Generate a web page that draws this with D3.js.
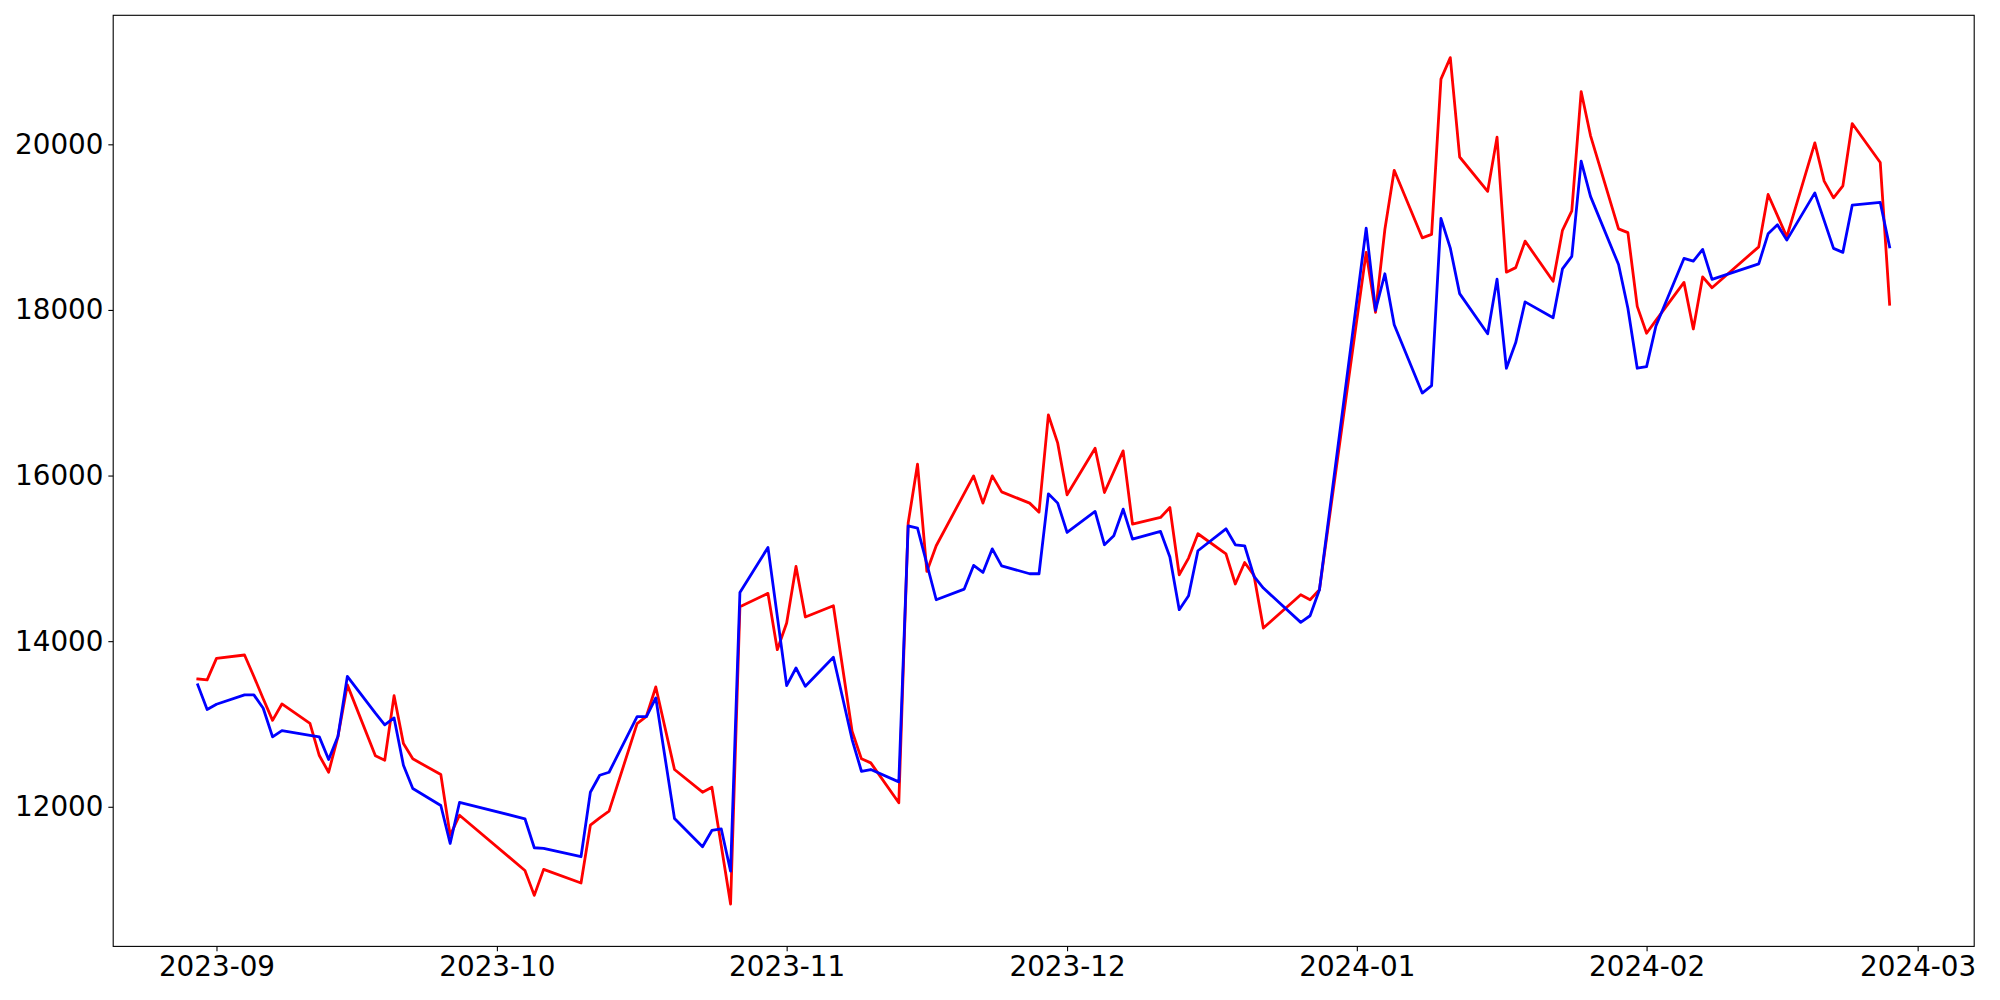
<!DOCTYPE html>
<html>
<head>
<meta charset="utf-8">
<script src="https://cdn.jsdelivr.net/npm/d3@7"></script>
<style>
   html, body { margin: 0; padding: 0; background: #fff; }
   svg { display: block; }
   .tick text { font-family: "DejaVu Sans", sans-serif; font-size: 27.8px; fill: #000; }
   .tick line { stroke: #000; stroke-width: 1.1px; }
</style>
</head>
<body>
<svg id="chart" width="2000" height="1000"></svg>
<script>
// trading days (KRX calendar)
var dates = [
   '2023-08-30','2023-08-31','2023-09-01','2023-09-04','2023-09-05','2023-09-06','2023-09-07','2023-09-08',
   '2023-09-11','2023-09-12','2023-09-13','2023-09-14','2023-09-15','2023-09-18','2023-09-19','2023-09-20',
   '2023-09-21','2023-09-22','2023-09-25','2023-09-26','2023-09-27',
   '2023-10-04','2023-10-05','2023-10-06','2023-10-10','2023-10-11','2023-10-12','2023-10-13','2023-10-16',
   '2023-10-17','2023-10-18','2023-10-19','2023-10-20','2023-10-23','2023-10-24','2023-10-25','2023-10-26',
   '2023-10-27','2023-10-30','2023-10-31',
   '2023-11-01','2023-11-02','2023-11-03','2023-11-06','2023-11-07','2023-11-08','2023-11-09','2023-11-10',
   '2023-11-13','2023-11-14','2023-11-15','2023-11-16','2023-11-17','2023-11-20','2023-11-21','2023-11-22',
   '2023-11-23','2023-11-24','2023-11-27','2023-11-28','2023-11-29','2023-11-30',
   '2023-12-01','2023-12-04','2023-12-05','2023-12-06','2023-12-07','2023-12-08','2023-12-11','2023-12-12',
   '2023-12-13','2023-12-14','2023-12-15','2023-12-18','2023-12-19','2023-12-20','2023-12-21','2023-12-22',
   '2023-12-26','2023-12-27','2023-12-28',
   '2024-01-02','2024-01-03','2024-01-04','2024-01-05','2024-01-08','2024-01-09','2024-01-10','2024-01-11',
   '2024-01-12','2024-01-15','2024-01-16','2024-01-17','2024-01-18','2024-01-19','2024-01-22','2024-01-23',
   '2024-01-24','2024-01-25','2024-01-26','2024-01-29','2024-01-30','2024-01-31',
   '2024-02-01','2024-02-02','2024-02-05','2024-02-06','2024-02-07','2024-02-08','2024-02-13','2024-02-14',
   '2024-02-15','2024-02-16','2024-02-19','2024-02-20','2024-02-21','2024-02-22','2024-02-23','2024-02-26',
   '2024-02-27'
];

var redValues = [
   13544, 13532, 13792, 13833, 13574, 13304, 13044, 13242,
   13008, 12619, 12417, 12851, 13472, 12615, 12562, 13342,
   12763, 12579, 12389, 11654, 11898,
   11231, 10930, 11244, 11079, 11778, 11867, 11947, 13005,
   13093, 13447, 12948, 12450, 12176, 12236, 11533, 10825,
   14415, 14577, 13897,
   14219, 14902, 14292, 14428, 13670, 12912, 12579, 12530,
   12048, 15426, 16137, 14842, 15152, 15785, 15996, 15667,
   15996, 15803, 15667, 15558, 16732, 16391,
   15767, 16330, 15795, 16047, 16298, 15413, 15494, 15614,
   14802, 15003, 15297, 15055, 14690, 14950, 14794, 14159,
   14561, 14500, 14621,
   18696, 17971, 18971, 19686, 18871, 18912, 20787, 21047,
   19847, 19432, 20087, 18456, 18511, 18831, 18346, 18962,
   19197, 20637, 20106, 18979, 18934, 18043,
   17718, 17874, 18333, 17770, 18400, 18268, 18762, 19394,
   19139, 18883, 20017, 19555, 19353, 19498, 20251, 19780,
   18068
];

var blueValues = [
   13472, 13174, 13238, 13351, 13351, 13190, 12844, 12920,
   12863, 12844, 12570, 12852, 13575, 13130, 12989, 13073,
   12502, 12220, 12015, 11557, 12052,
   11855, 11505, 11497, 11397, 12176, 12381, 12417, 13089,
   13089, 13315, 12586, 11859, 11517, 11714, 11734, 11222,
   14589, 15132, 14300,
   13463, 13676, 13455, 13805, 13310, 12812, 12429, 12450,
   12301, 15393, 15365, 14932, 14500, 14629, 14915, 14830,
   15115, 14910, 14814, 14814, 15779, 15667,
   15313, 15566, 15164, 15273, 15594, 15232, 15325, 15016,
   14380, 14549, 15092, 15357, 15164, 15152, 14782, 14641,
   14227, 14307, 14621,
   18987, 17996, 18437, 17822, 16996, 17086, 19106, 18747,
   18197, 17712, 18372, 17296, 17606, 18097, 17906, 18496,
   18646, 19796, 19371, 18548, 18021, 17296,
   17315, 17806, 18622, 18590, 18731, 18369, 18557, 18919,
   19028, 18843, 19414, 19078, 18743, 18695, 19265, 19298,
   18762
];

var yTicks = [12000, 14000, 16000, 18000, 20000];
var seriesColors = ['red', 'blue'];

(function(){
   var svg = d3.select('#chart');
   var W = 2000, H = 1000;
   var margin = {left: 113.2, right: 25.8, top: 15.3, bottom: 53.6};
   var pw = W - margin.left - margin.right,
       ph = H - margin.top - margin.bottom;

   var parse = d3.timeParse('%Y-%m-%d');
   var xs = dates.map(parse);

   // matplotlib style 5% margins on both axes
   var xExt = d3.extent(xs);
   var xPad = (xExt[1] - xExt[0]) * 0.05;
   var x = d3.scaleTime()
      .domain([new Date(+xExt[0] - xPad), new Date(+xExt[1] + xPad)])
      .range([0, pw]);

   var all = redValues.concat(blueValues);
   var yExt = d3.extent(all);
   var yPad = (yExt[1] - yExt[0]) * 0.05;
   var y = d3.scaleLinear()
      .domain([yExt[0] - yPad, yExt[1] + yPad])
      .range([ph, 0]);

   var g = svg.append('g')
      .attr('transform', 'translate(' + margin.left + ',' + margin.top + ')');

   g.append('clipPath').attr('id', 'plot-clip')
      .append('rect').attr('width', pw).attr('height', ph);

   var line = d3.line()
      .x(function(d){ return x(d[0]); })
      .y(function(d){ return y(d[1]); });

   [redValues, blueValues].forEach(function(vals, i){
      var pts = xs.map(function(d, j){ return [d, vals[j]]; });
      g.append('path')
         .datum(pts)
         .attr('d', line)
         .attr('fill', 'none')
         .attr('stroke', seriesColors[i])
         .attr('stroke-width', 2.8)
         .attr('stroke-linejoin', 'round')
         .attr('stroke-linecap', 'square')
         .attr('clip-path', 'url(#plot-clip)');
   });

   var tk = 4.86;
   var xAxis = d3.axisBottom(x)
      .tickValues(d3.timeMonth.range(new Date(2023, 8, 1), new Date(2024, 2, 2)))
      .tickFormat(d3.timeFormat('%Y-%m'))
      .tickSize(tk)
      .tickPadding(tk);
   var gx = g.append('g')
      .attr('transform', 'translate(0,' + ph + ')')
      .call(xAxis);
   gx.select('.domain').remove();

   var yAxis = d3.axisLeft(y)
      .tickValues(yTicks)
      .tickFormat(d3.format('d'))
      .tickSize(tk)
      .tickPadding(tk);
   var gy = g.append('g').call(yAxis);
   gy.select('.domain').remove();

   // frame (all four spines)
   g.append('rect')
      .attr('width', pw)
      .attr('height', ph)
      .attr('fill', 'none')
      .attr('stroke', '#000')
      .attr('stroke-width', 1.1);
})();
</script>
</body>
</html>
